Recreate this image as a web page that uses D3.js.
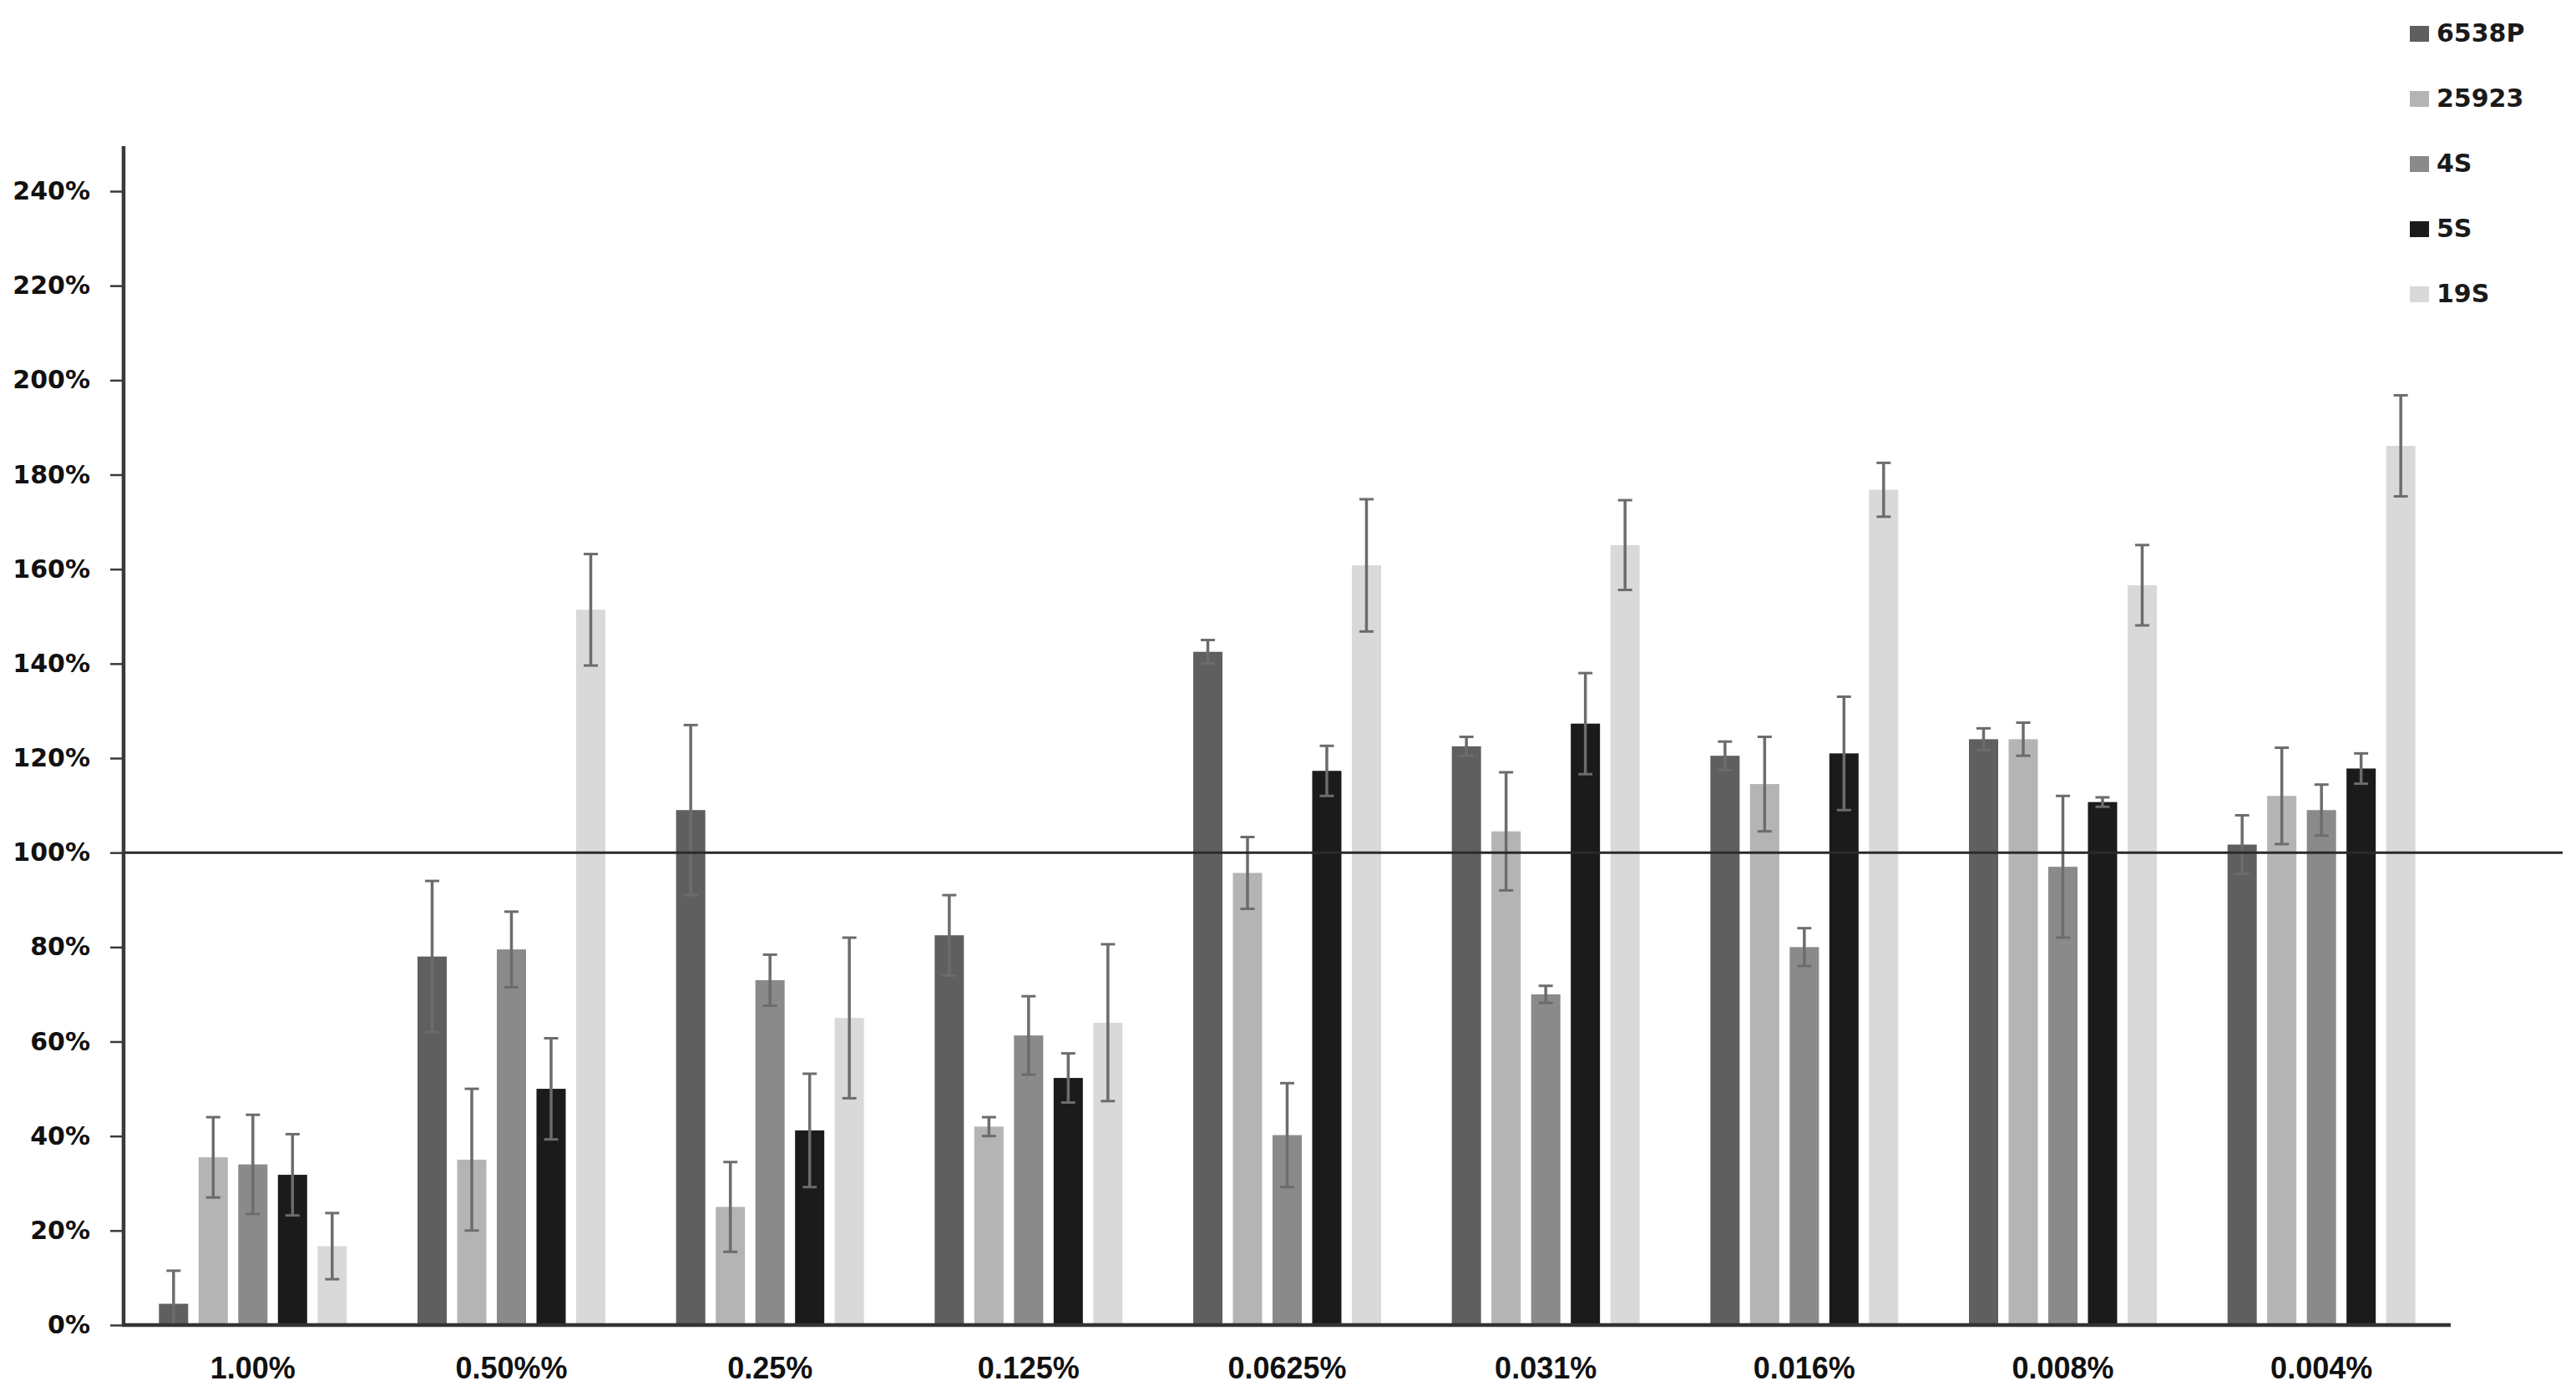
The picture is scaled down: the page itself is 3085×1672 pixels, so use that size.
<!DOCTYPE html>
<html>
<head>
<meta charset="utf-8">
<script src="https://cdn.jsdelivr.net/npm/d3@7"></script>
<style>
  html, body { margin: 0; padding: 0; background: #fff; }
  svg { display: block; }
</style>
</head>
<body>
<svg id="chart" width="3085" height="1672"></svg>
<script>
// ---- data ----
const categories = ["1.00%", "0.50%%", "0.25%", "0.125%", "0.0625%", "0.031%", "0.016%", "0.008%", "0.004%"];
const seriesNames = ["6538P", "25923", "4S", "5S", "19S"];
const seriesColors = ["#5f5f5f", "#b4b4b4", "#8a8a8a", "#1b1b1b", "#d9d9d9"];

const values6538P = [4.5, 78, 109, 82.5, 142.5, 122.5, 120.5, 124, 101.7];
const errors6538P = [7, 16, 18, 8.5, 2.5, 2, 3, 2.3, 6.2];
const values25923 = [35.5, 35, 25, 42, 95.7, 104.5, 114.5, 124, 112];
const errors25923 = [8.5, 15, 9.5, 2, 7.6, 12.5, 10, 3.5, 10.2];
const values4S = [34, 79.5, 73, 61.3, 40.2, 70, 80, 97, 109];
const errors4S = [10.5, 8, 5.4, 8.3, 11, 1.8, 4, 15, 5.4];
const values5S = [31.8, 50, 41.2, 52.3, 117.3, 127.3, 121, 110.7, 117.8];
const errors5S = [8.6, 10.7, 12, 5.2, 5.3, 10.7, 12, 1, 3.2];
const values19S = [16.7, 151.4, 65, 64, 160.8, 165.1, 176.8, 156.6, 186.1];
const errors19S = [7, 11.8, 17, 16.6, 14, 9.5, 5.7, 8.5, 10.7];

const yTicks = [0, 20, 40, 60, 80, 100, 120, 140, 160, 180, 200, 220, 240];
const referenceValue = 100;

const allValues = [values6538P, values25923, values4S, values5S, values19S];
const allErrors = [errors6538P, errors25923, errors4S, errors5S, errors19S];

// ---- layout ----
const svg = d3.select("#chart");
const plotLeft = 148, plotRight = 2935, plotBottom = 1587, plotTop = 229, axisTop = 175, refRight = 3069;

const x0 = d3.scaleBand().domain(categories).range([plotLeft, plotRight])
  .paddingInner(0.2735).paddingOuter(0.2735 / 2);
const x1 = d3.scaleBand().domain(seriesNames).range([0, x0.bandwidth()])
  .paddingInner(0.263).paddingOuter(0);
const y = d3.scaleLinear().domain([0, 240]).range([plotBottom, plotTop]);

// bars
const rows = [];
categories.forEach((c, i) => {
  seriesNames.forEach((s, j) => {
    rows.push({ cat: c, series: s, v: allValues[j][i], e: allErrors[j][i], color: seriesColors[j] });
  });
});

const g = svg.append("g");
g.selectAll("rect.bar").data(rows).enter().append("rect")
  .attr("class", "bar")
  .attr("x", d => x0(d.cat) + x1(d.series))
  .attr("y", d => y(d.v))
  .attr("width", x1.bandwidth())
  .attr("height", d => y(0) - y(d.v))
  .attr("fill", d => d.color);

// error bars
const eg = svg.append("g").attr("stroke", "#6c6c6c");
const capW = 17;
rows.forEach(d => {
  const cx = x0(d.cat) + x1(d.series) + x1.bandwidth() / 2;
  const yt = y(d.v + d.e);
  const yb = y(Math.max(0, d.v - d.e));
  eg.append("line").attr("x1", cx).attr("x2", cx).attr("y1", yt).attr("y2", yb).attr("stroke-width", 3.5);
  eg.append("line").attr("x1", cx - capW / 2).attr("x2", cx + capW / 2).attr("y1", yt).attr("y2", yt).attr("stroke-width", 3);
  if (d.v - d.e > 0) {
    eg.append("line").attr("x1", cx - capW / 2).attr("x2", cx + capW / 2).attr("y1", yb).attr("y2", yb).attr("stroke-width", 3);
  }
});

// reference line at 100%
svg.append("line")
  .attr("x1", plotLeft).attr("x2", refRight)
  .attr("y1", y(referenceValue)).attr("y2", y(referenceValue))
  .attr("stroke", "#2a2a2a").attr("stroke-width", 3);

// y axis
const yAxis = d3.axisLeft(y).tickValues(yTicks).tickFormat(d => d + "%").tickSize(16).tickPadding(24);
const ya = svg.append("g").attr("transform", `translate(${plotLeft},0)`).call(yAxis);
ya.select(".domain").remove();
ya.selectAll(".tick line").attr("stroke", "#3a3a3a").attr("stroke-width", 2.5);
ya.selectAll(".tick text")
  .attr("font-family", "DejaVu Sans").attr("font-weight", "bold")
  .attr("font-size", 30).attr("fill", "#111");
svg.append("line").attr("x1", plotLeft).attr("x2", plotLeft).attr("y1", axisTop).attr("y2", plotBottom)
  .attr("stroke", "#3a3a3a").attr("stroke-width", 4.5);

// x axis
const xAxis = d3.axisBottom(x0).tickSize(0).tickPadding(38);
const xa = svg.append("g").attr("transform", `translate(0,${plotBottom})`).call(xAxis);
xa.select(".domain").remove();
xa.selectAll(".tick text")
  .attr("font-family", "Liberation Sans").attr("font-weight", "bold")
  .attr("font-size", 36).attr("fill", "#111");
svg.append("line").attr("x1", plotLeft - 2).attr("x2", plotRight).attr("y1", plotBottom).attr("y2", plotBottom)
  .attr("stroke", "#333").attr("stroke-width", 4.5);

// legend
const lg = svg.append("g");
seriesNames.forEach((s, i) => {
  const base = 50 + i * 78;
  lg.append("rect").attr("x", 2886).attr("y", base - 19).attr("width", 23).attr("height", 19)
    .attr("fill", seriesColors[i]);
  lg.append("text").attr("x", 2918).attr("y", base)
    .attr("font-family", "DejaVu Sans").attr("font-weight", "bold")
    .attr("font-size", 30).attr("fill", "#1a1a1a").text(s);
});
</script>
</body>
</html>
